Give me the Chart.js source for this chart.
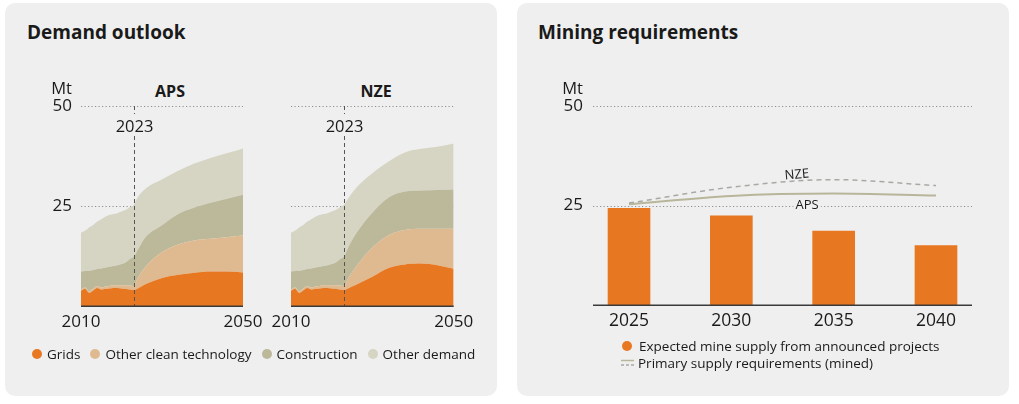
<!DOCTYPE html>
<html><head><meta charset="utf-8">
<script src="https://cdn.jsdelivr.net/npm/chart.js@4.4.1/dist/chart.umd.min.js"></script>
<style>
body{margin:0;background:#fff;width:1019px;height:404px;position:relative;overflow:hidden;font-family:"Open Sans",sans-serif;color:#1a1a1a}
.card{position:absolute;top:3px;width:492px;height:393px;background:#efefef;border-radius:10px}
.title{position:absolute;font-weight:700;font-size:19px;line-height:24px;top:20px;white-space:nowrap}
canvas{position:absolute}
.sub{position:absolute;font-weight:700;font-size:16px;line-height:16px;transform:translate(-50%,-50%)}
.legend{position:absolute;font-size:13.5px;height:18px;line-height:18px;display:flex;align-items:center;white-space:nowrap}
.dot{display:inline-block;width:10px;height:10px;border-radius:50%;margin-right:5px}
.item{display:flex;align-items:center;margin-right:10px}
</style></head>
<body>
<div class="card" style="left:5px"></div>
<div class="card" style="left:517px"></div>
<div class="title" style="left:27px">Demand outlook</div>
<div class="title" style="left:538px">Mining requirements</div>
<div class="sub" style="left:170px;top:91px">APS</div>
<div class="sub" style="left:376px;top:91px">NZE</div>
<canvas id="aps" width="250" height="290" style="left:40px;top:60px"></canvas>
<canvas id="nze" width="250" height="290" style="left:250px;top:60px"></canvas>
<canvas id="mine" width="470" height="290" style="left:540px;top:60px"></canvas>
<div class="legend" style="left:32px;top:345px">
  <span class="item"><span class="dot" style="background:#e87722"></span>Grids</span>
  <span class="item"><span class="dot" style="background:#dfba91"></span>Other clean technology</span>
  <span class="item"><span class="dot" style="background:#bcb99b"></span>Construction</span>
  <span class="item"><span class="dot" style="background:#d6d4c3"></span>Other demand</span>
</div>
<div class="legend" style="left:622px;top:337px"><span class="dot" style="background:#e87722;margin-right:7px"></span>Expected mine supply from announced projects</div>
<div class="legend" style="left:621px;top:354px">
  <svg width="13" height="8" style="margin-right:4px"><line x1="0" y1="1.5" x2="13" y2="1.5" stroke="#b8b69a" stroke-width="1.5"/><line x1="0" y1="6" x2="13" y2="6" stroke="#a9a9a4" stroke-width="1.5" stroke-dasharray="3,2"/></svg>Primary supply requirements (mined)</div>
<script>
// ---------- Demand outlook data (Mt) ----------
const histYears = [2010,2011,2012,2013,2014,2015,2016,2017,2018,2019,2020,2021,2022,2023];
const projYears = [2024,2026,2030,2034,2038,2042,2046,2050];
const histGrids        = [3.8,4.3,3.3,3.9,4.5,4.1,4.3,4.4,4.5,4.5,4.4,4.3,4.1,4.0];
const histOtherClean   = [0.3,0.3,0.4,0.4,0.5,0.5,0.6,0.6,0.7,0.7,0.8,0.9,1.0,1.0];
const histConstruction = [4.5,4.15,5.1,4.7,4.25,4.8,4.7,4.8,4.8,5.0,5.3,5.7,6.6,7.3];
const histOtherDemand  = [9.7,10.05,10.8,11.25,11.85,12.3,12.7,12.95,13.0,13.0,13.1,13.1,13.0,12.95];
const apsGrids        = [4.4,5.5,7.0,7.8,8.3,8.6,8.6,8.4];
const apsOtherClean   = [2.6,4.4,6.5,7.6,8.1,8.2,8.6,9.2];
const apsConstruction = [7.0,7.4,6.7,7.6,8.2,9.0,9.6,10.2];
const apsOtherDemand  = [13.2,12.1,11.4,10.8,11.0,11.2,11.4,11.6];
const nzeGrids        = [4.4,5.3,7.3,9.5,10.4,10.6,10.2,9.3];
const nzeOtherClean   = [2.4,4.5,7.3,8.2,8.6,8.7,9.1,10.0];
const nzeConstruction = [7.7,8.3,8.7,9.4,9.6,9.6,9.7,9.8];
const nzeOtherDemand  = [12.3,11.4,9.9,9.0,9.8,10.4,10.8,11.5];
const seriesNames = ['Grids','Other clean technology','Construction','Other demand'];
const seriesColors = ['#e87722','#dfba91','#bcb99b','#d6d4c3'];
const demandTicks = [2010,2050];
const valueTicks = [0,25,50];
const markerYear = 2023;

// ---------- Mining requirements data (Mt) ----------
const mineYears   = [2025,2030,2035,2040];
const mineSupply  = [24.3,22.4,18.6,14.9];
const reqAPS      = [25.3,27.4,28.0,27.5];
const reqNZE      = [25.6,29.6,31.5,30.0];

const FONT = 'Open Sans';
const years = histYears.concat(projYears);
const pts = v => years.map((y,i)=>({x:y,y:v[i]}));

const areaDecor = {
  id:'areaDecor',
  beforeDatasetsDraw(chart){
    const {ctx, chartArea:a, scales:{y}} = chart;
    ctx.save(); ctx.strokeStyle='#8f8f8f'; ctx.lineWidth=1; ctx.setLineDash([1.2,2.3]);
    [25,50].forEach(v=>{const py=Math.round(y.getPixelForValue(v))+0.5; ctx.beginPath(); ctx.moveTo(a.left,py); ctx.lineTo(a.right,py); ctx.stroke();});
    ctx.restore();
  },
  afterDatasetsDraw(chart, args, opts){
    const {ctx, chartArea:a, scales:{x,y}} = chart;
    ctx.save();
    const px = Math.round(x.getPixelForValue(markerYear))+0.5;
    const top = y.getPixelForValue(50);
    ctx.strokeStyle='#555'; ctx.lineWidth=1; ctx.setLineDash([4,3]);
    ctx.beginPath(); ctx.moveTo(px,top); ctx.lineTo(px,top+8); ctx.moveTo(px,top+30); ctx.lineTo(px,a.bottom); ctx.stroke();
    ctx.setLineDash([]);
    ctx.fillStyle='#1a1a1a'; ctx.font='16.5px "'+FONT+'"'; ctx.textAlign='center'; ctx.textBaseline='middle';
    ctx.fillText(String(markerYear), px, top+21);
    ctx.strokeStyle='#3a3a3a'; ctx.lineWidth=1.5;
    ctx.beginPath(); ctx.moveTo(a.left, a.bottom+0.25); ctx.lineTo(a.right, a.bottom+0.25); ctx.stroke();
    if (opts.unit){ ctx.textAlign='right'; ctx.font='16.5px "'+FONT+'"'; ctx.fillText('Mt', a.left-9, top-17); }
    ctx.restore();
  }
};

function areaChart(id, g, oc, c, od, showY){
  const vals = [histGrids.concat(g), histOtherClean.concat(oc), histConstruction.concat(c), histOtherDemand.concat(od)];
  return new Chart(document.getElementById(id), {
    type:'line',
    data:{datasets: vals.map((v,i)=>({label:seriesNames[i], data:pts(v), backgroundColor:seriesColors[i], borderWidth:0, pointRadius:0, fill: i===0?'origin':'-1', cubicInterpolationMode:'monotone'}))},
    options:{
      responsive:false, animation:false, devicePixelRatio:1,
      layout:{padding:{left:0, top:46, right:id==='aps'?47:46.3, bottom:0}},
      plugins:{legend:{display:false}, tooltip:{enabled:false}, areaDecor:{unit:showY}},
      scales:{
        x:{type:'linear', min:2010, max:2050, afterBuildTicks(s){s.ticks=demandTicks.map(v=>({value:v}));}, afterFit(s){s.height=44;},
           grid:{display:false, drawTicks:false}, border:{display:false},
           ticks:{padding:6, color:'#1a1a1a', font:{size:17, family:FONT}, maxRotation:0, autoSkip:false, callback:v=>String(v)}},
        y:{stacked:true, min:0, max:50, afterBuildTicks(s){s.ticks=valueTicks.map(v=>({value:v}));}, afterFit(s){s.width=41;},
           grid:{display:false, drawTicks:false}, border:{display:false},
           ticks:{display:showY, padding:9, color:'#1a1a1a', font:{size:17, family:FONT}, callback:v=>v===0?'':String(v)}}
      }
    },
    plugins:[areaDecor]
  });
}
areaChart('aps', apsGrids, apsOtherClean, apsConstruction, apsOtherDemand, true);
areaChart('nze', nzeGrids, nzeOtherClean, nzeConstruction, nzeOtherDemand, false);

const lineLabels = [{text:'NZE', x:2033.2, y:32.7, rot:-5}, {text:'APS', x:2033.7, y:24.95, rot:0}];
const mineDecor = {
  id:'mineDecor',
  beforeDatasetsDraw(chart){
    const {ctx, chartArea:a, scales:{y}} = chart;
    ctx.save(); ctx.strokeStyle='#8f8f8f'; ctx.lineWidth=1; ctx.setLineDash([1.2,2.3]);
    [25,50].forEach(v=>{const py=Math.round(y.getPixelForValue(v))+0.5; ctx.beginPath(); ctx.moveTo(a.left,py); ctx.lineTo(a.right,py); ctx.stroke();});
    ctx.setLineDash([]);
    ctx.font='13px "'+FONT+'"'; ctx.textAlign='center'; ctx.textBaseline='middle';
    const x = chart.scales.x;
    lineLabels.forEach(l=>{
      const px=x.getPixelForValue(l.x), py=y.getPixelForValue(l.y);
      ctx.save(); ctx.translate(px,py); ctx.rotate(l.rot*Math.PI/180);
      const w=ctx.measureText(l.text).width;
      ctx.fillStyle='#efefef'; ctx.fillRect(-w/2-2,-7,w+4,14);
      ctx.fillStyle='#1a1a1a'; ctx.fillText(l.text,0,0); ctx.restore();
    });
    ctx.fillStyle='#1a1a1a'; ctx.textAlign='right'; ctx.font='16.5px "'+FONT+'"';
    ctx.fillText('Mt', a.left-10, y.getPixelForValue(50)-17);
    ctx.restore();
  },
  afterDatasetsDraw(chart){
    const {ctx, chartArea:a} = chart;
    ctx.save(); ctx.strokeStyle='#3a3a3a'; ctx.lineWidth=1.5;
    ctx.beginPath(); ctx.moveTo(a.left, a.bottom+0.25); ctx.lineTo(a.right, a.bottom+0.25); ctx.stroke(); ctx.restore();
  }
};

new Chart(document.getElementById('mine'), {
  type:'bar',
  data:{datasets:[
    {type:'line', label:'NZE', data:mineYears.map((y,i)=>({x:y,y:reqNZE[i]})), borderColor:'#a9a9a4', borderWidth:1.5, borderDash:[5,4], pointRadius:0, cubicInterpolationMode:'monotone', order:0},
    {type:'line', label:'APS', data:mineYears.map((y,i)=>({x:y,y:reqAPS[i]})), borderColor:'#b8b69a', borderWidth:2, pointRadius:0, cubicInterpolationMode:'monotone', order:1},
    {type:'bar', label:'Expected mine supply from announced projects', data:mineYears.map((y,i)=>({x:y,y:mineSupply[i]})), backgroundColor:'#e87722', barThickness:42, order:2}
  ]},
  options:{
    responsive:false, animation:false, devicePixelRatio:1,
    layout:{padding:{left:0, top:46, right:38, bottom:0}},
    plugins:{legend:{display:false}, tooltip:{enabled:false}},
    scales:{
      x:{type:'linear', offset:false, min:2023.24, max:2041.76, afterBuildTicks(s){s.ticks=mineYears.map(v=>({value:v}));}, afterFit(s){s.height=45;},
         grid:{display:false, drawTicks:false}, border:{display:false},
         ticks:{padding:6, color:'#1a1a1a', font:{size:17.5, family:FONT}, maxRotation:0, autoSkip:false, callback:v=>String(v)}},
      y:{min:0, max:50, afterBuildTicks(s){s.ticks=valueTicks.map(v=>({value:v}));}, afterFit(s){s.width=53;},
         grid:{display:false, drawTicks:false}, border:{display:false},
         ticks:{padding:10, color:'#1a1a1a', font:{size:17, family:FONT}, callback:v=>v===0?'':String(v)}}
    }
  },
  plugins:[mineDecor]
});
</script>
</body></html>
